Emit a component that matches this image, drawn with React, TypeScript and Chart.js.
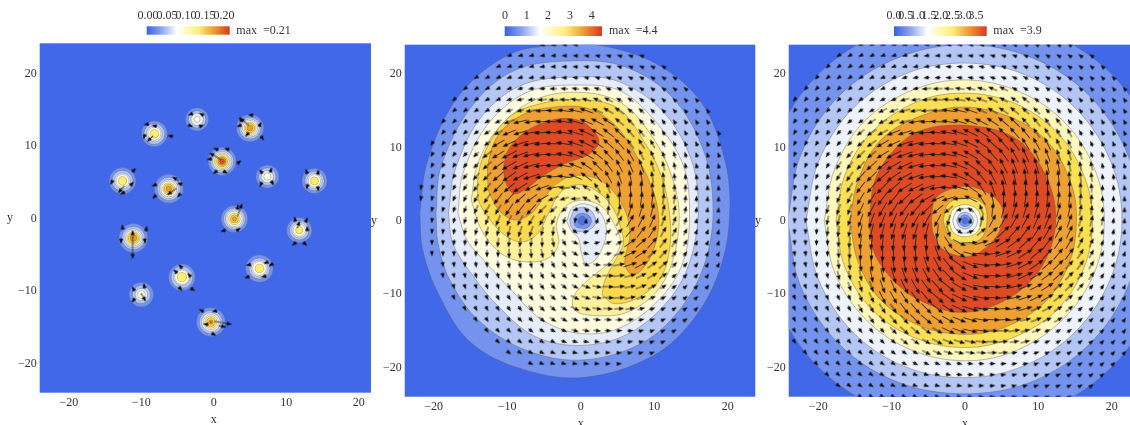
import React, { useEffect, useRef } from "react";
import { Chart, registerables } from "chart.js";

Chart.register(...registerables);

type Pt = [number, number];
type Contour = [number, Pt[]];

const FONT = "'Liberation Serif', serif";
const BG_BLUE = "#4268EA";
// contour fill per level, 0 = background
const levelColors = ["#4A70EA", "#7393EE", "#B3C6F5", "#E6ECFA", "#FFFCE0", "#FFF09A", "#FBD94F", "#EFA032", "#DE4A24"];
const levelColorsC = ["#4A70EA", "#7393EE", "#B3C6F5", "#EEF2FB", "#FFFCE0", "#FFF8BC", "#FBDF55", "#EFA032", "#DE4A24"];
const levelColorsA = ["#4268EA", "#7393EE", "#B3C6F5", "#E6ECFA", "#FFFCE0", "#FFEE6E", "#FBCF40", "#EE9A30", "#DE4A24"];
const arrowLengthByLevel = [5.5, 5.5, 6, 6.5, 8, 10, 12, 14.5, 17];

// ---- panel A: fifteen localised blobs ----
const blobX = [-2.3, -8.2, 5, 1.15, -12.6, -6.2, 7.4, 13.9, 2.85, 11.8, -11.1, 6.3, -4.4, -10, -0.4];
const blobY = [13.7, 11.7, 12.5, 7.9, 5.2, 4.1, 5.8, 5.2, -0.05, -1.6, -2.7, -6.9, -8.1, -10.5, -14.3];
// contour radii around every blob, one list per level 1..8
const blobR1 = [1.6, 1.8, 1.9, 1.95, 1.85, 2.0, 1.6, 1.75, 1.85, 1.75, 2.0, 1.9, 1.85, 1.7, 2.0];
const blobR2 = [1.2, 1.45, 1.5, 1.6, 1.45, 1.6, 1.2, 1.35, 1.5, 1.35, 1.6, 1.45, 1.5, 1.25, 1.6];
const blobR3 = [0.85, 1.1, 1.25, 1.35, 1.1, 1.3, 0.85, 1.05, 1.25, 1.05, 1.3, 1.15, 1.15, 0.85, 1.3];
const blobR4 = [0.4, 0.9, 1.05, 1.15, 0.9, 1.1, 0.5, 0.85, 1.05, 0.85, 1.1, 0.95, 1.0, 0.55, 1.05];
const blobR5 = [0, 0.6, 0.85, 1.0, 0.6, 0.85, 0, 0.55, 0.8, 0.5, 0.9, 0.6, 0.65, 0.08, 0.85];
const blobR6 = [0, 0, 0.65, 0.75, 0, 0.65, 0, 0, 0.55, 0, 0.7, 0, 0, 0, 0.6];
const blobR7 = [0, 0, 0.4, 0.55, 0, 0.4, 0, 0, 0.3, 0, 0.45, 0, 0, 0, 0.3];
const blobR8 = [0, 0, 0, 0.35, 0, 0, 0, 0, 0, 0, 0, 0, 0, 0, 0.12];

const arrowAX = [-3.2, -1.7, -3.2, -1.7, -9.3, -8.2, -9.6, -8.8, -6, 3.7, 5.1, 3.5, 6.4, 4.6, 6.7, 4.2, 0.3, 1.8, 0.2, 3.5, -0.6, 0.2, 1.6, -11, -14.1, -11.3, -12.8, -12.6, -8.2, -5.3, -4.7, -8.2, -5.8, -4.8, 6.5, 7.9, 6.5, 8.1, 12.8, 14.4, 12.9, 14.4, 3.3, 3.6, 1.3, 3.4, 11.2, 12.8, 11.7, 12.9, 11.1, 12.6, -12.6, -9.3, -11.2, -11.2, -12.8, -9.5, 4.8, 7.2, 7.9, 4.6, 6.9, -4.6, -5.3, -3.4, -4.6, -2.9, -11.1, -9.6, -11.1, -9.7, -1.7, 0.1, -1.1, 1.3, 1.2, 0];
const arrowAY = [14.4, 14.4, 12.8, 12.8, 13, 12.8, 11.3, 11, 11.4, 13.7, 14.3, 12.8, 13, 11.6, 11.1, 13.4, 9.6, 9.6, 8.6, 7.8, 8.2, 6.4, 6.4, 6.7, 5, 4.8, 4, 3.5, 4.6, 5.5, 4.8, 3, 3.7, 3.2, 6.5, 6.7, 4.7, 4.9, 6.5, 6.4, 4.4, 4.1, 1.6, 1.2, -1.7, -1.5, -0.1, -0.2, -0.8, -1.4, -3.5, -3.5, -1.2, -1.4, -2.1, -4.1, -3.1, -3.1, -6.4, -6.1, -6.4, -8.1, -8, -6.6, -7.3, -7.8, -9.7, -9.8, -9.7, -9.3, -11.3, -10.9, -12.7, -12.8, -14.6, -14.4, -14.9, -16];
const arrowAAngle = [200, 150, 340, 20, 190, 170, 250, 225, 170, 120, 170, 200, 60, 230, 300, 140, 160, 160, 150, 40, 190, 220, 330, 45, 240, 50, 230, 210, 200, 150, 170, 225, 215, 230, 130, 70, 250, 300, 110, 80, 260, 280, 80, 70, 200, 40, 100, 70, 70, 90, 220, 320, 100, 80, 90, 270, 270, 280, 190, 200, 210, 200, 190, 130, 140, 130, 310, 330, 120, 100, 230, 300, 150, 190, 170, 350, 350, 330];
const arrowALen = [6, 6, 6, 6, 6, 6, 6, 9, 6, 6, 6, 6, 6, 6, 6, 12, 6, 6, 14, 6, 6, 6, 6, 6, 6, 6, 10, 6, 6, 8, 6, 6, 12, 6, 6, 6, 6, 6, 6, 6, 6, 6, 6, 14, 6, 6, 6, 6, 8, 6, 6, 6, 6, 6, 8, 22, 6, 6, 6, 6, 6, 6, 6, 6, 6, 6, 6, 6, 6, 6, 6, 10, 6, 6, 6, 18, 8, 6];

// ---- shared arrow lattice (panels B and C) ----
const gridX = [-23.25, -21.75, -20.25, -18.75, -17.25, -15.75, -14.25, -12.75, -11.25, -9.75, -8.25, -6.75, -5.25, -3.75, -2.25, -0.75, 0.75, 2.25, 3.75, 5.25, 6.75, 8.25, 9.75, 11.25, 12.75, 14.25, 15.75, 17.25, 18.75, 20.25, 21.75];
const gridY = [24, 22.5, 21, 19.5, 18, 16.5, 15, 13.5, 12, 10.5, 9, 7.5, 6, 4.5, 3, 1.5, 0, -1.5, -3, -4.5, -6, -7.5, -9, -10.5, -12, -13.5, -15, -16.5, -18, -19.5, -21, -22.5, -24];
// first lattice column of each row
const angleRowStart = [6, 4, 3, 2, 1, 0, 0, 0, 0, 0, 0, 0, 0, 0, 0, 0, 0, 0, 0, 0, 0, 0, 0, 0, 0, 0, 0, 0, 1, 2, 3, 4, 6];
// arrow direction in degrees, counter-clockwise from +x, row by row from the top
const angleRows: number[][] = [
  [209, 206, 203, 200, 197, 194, 190, 187, 183, 180, 176, 173, 169, 166, 162, 159, 156, 153, 150, 147],
  [216, 212, 209, 206, 203, 199, 196, 193, 188, 185, 181, 177, 173, 169, 165, 162, 159, 156, 153, 149, 147, 145, 142, 140],
  [220, 217, 214, 211, 207, 204, 200, 196, 192, 188, 183, 179, 175, 171, 167, 163, 160, 156, 154, 150, 148, 145, 143, 140, 139, 136],
  [224, 221, 218, 215, 212, 208, 204, 200, 196, 191, 186, 182, 178, 173, 169, 164, 160, 156, 153, 150, 146, 144, 142, 140, 137, 136, 133, 132],
  [228, 225, 223, 220, 216, 212, 208, 204, 199, 195, 191, 185, 181, 176, 171, 167, 162, 157, 153, 149, 145, 143, 140, 138, 136, 134, 132, 131, 129, 128],
  [233, 230, 227, 225, 221, 218, 214, 209, 204, 200, 195, 189, 185, 179, 174, 169, 163, 158, 153, 149, 145, 141, 138, 136, 133, 132, 130, 129, 127, 125, 124],
  [235, 232, 230, 226, 223, 219, 215, 209, 205, 200, 195, 189, 183, 178, 172, 167, 161, 156, 150, 145, 141, 137, 134, 131, 129, 128, 127, 125, 124, 123, 122],
  [237, 234, 232, 228, 225, 220, 216, 210, 206, 201, 194, 189, 182, 177, 171, 164, 158, 152, 146, 140, 135, 132, 129, 126, 124, 123, 122, 121, 120, 120, 118],
  [240, 237, 234, 231, 227, 223, 218, 213, 208, 202, 197, 189, 183, 176, 170, 163, 155, 148, 142, 135, 131, 128, 124, 122, 119, 118, 117, 117, 117, 116, 115],
  [242, 240, 237, 234, 230, 225, 221, 215, 210, 205, 198, 192, 185, 178, 170, 162, 154, 146, 138, 131, 126, 122, 119, 116, 115, 113, 113, 112, 112, 112, 112],
  [245, 243, 240, 236, 232, 228, 223, 218, 212, 207, 200, 193, 186, 178, 169, 160, 150, 141, 132, 126, 119, 115, 113, 110, 108, 107, 108, 108, 108, 108, 107],
  [247, 246, 243, 239, 236, 231, 226, 222, 216, 210, 205, 196, 187, 179, 169, 158, 146, 135, 125, 117, 112, 109, 106, 104, 102, 102, 102, 103, 103, 103, 104],
  [250, 249, 245, 242, 238, 234, 229, 225, 221, 215, 208, 198, 191, 182, 171, 157, 143, 129, 118, 109, 102, 100, 99, 97, 95, 95, 96, 96, 98, 98, 99],
  [254, 252, 248, 245, 242, 238, 233, 230, 226, 221, 213, 206, 199, 190, 177, 165, 146, 123, 110, 101, 94, 91, 91, 90, 88, 89, 90, 92, 92, 94, 96],
  [258, 255, 253, 250, 246, 243, 239, 236, 233, 229, 222, 216, 210, 203, 197, 182, 154, 123, 101, 90, 84, 82, 83, 83, 82, 83, 85, 86, 88, 89, 91],
  [261, 259, 257, 254, 251, 249, 245, 242, 240, 237, 232, 228, 224, 220, 221, 197, 143, 109, 84, 76, 73, 72, 75, 76, 76, 77, 79, 81, 84, 85, 87],
  [265, 263, 261, 259, 256, 254, 251, 249, 248, 246, 242, 240, 240, 242, 255, 260, 80, 75, 62, 60, 60, 62, 66, 68, 69, 71, 74, 76, 79, 81, 83],
  [269, 267, 265, 264, 261, 259, 257, 256, 256, 255, 252, 252, 256, 264, 289, 323, 17, 41, 40, 44, 48, 52, 57, 60, 62, 65, 69, 71, 74, 77, 79],
  [272, 271, 269, 268, 266, 265, 263, 262, 263, 263, 262, 264, 270, 281, 303, 334, 2, 17, 23, 30, 36, 42, 49, 53, 56, 59, 63, 66, 70, 73, 75],
  [276, 276, 274, 272, 272, 270, 268, 268, 270, 271, 271, 274, 281, 290, 303, 325, -15, -3, 10, 19, 26, 33, 41, 46, 50, 54, 58, 62, 66, 69, 72],
  [279, 280, 278, 278, 276, 276, 275, 275, 277, 279, 280, 282, 289, 298, 309, 323, -23, -9, 2, 11, 18, 28, 35, 41, 45, 49, 54, 58, 62, 66, 70],
  [283, 284, 283, 283, 283, 282, 282, 282, 284, 286, 289, 292, 297, 305, 315, 326, -22, -11, -1, 7, 16, 25, 30, 36, 41, 46, 50, 55, 59, 63, 66],
  [287, 288, 288, 288, 288, 288, 287, 288, 290, 293, 296, 299, 306, 312, 321, 330, -20, -11, -2, 6, 13, 21, 27, 32, 38, 43, 48, 52, 56, 60, 63],
  [290, 292, 291, 292, 292, 293, 293, 295, 296, 299, 302, 306, 311, 318, 326, 334, -18, -10, -2, 5, 12, 18, 25, 30, 36, 41, 45, 50, 54, 57, 60],
  [294, 295, 296, 297, 297, 297, 298, 299, 302, 304, 307, 311, 315, 322, 328, 335, -17, -10, -4, 3, 9, 16, 22, 28, 33, 38, 43, 47, 51, 54, 58],
  [297, 298, 300, 300, 301, 302, 302, 304, 306, 309, 312, 315, 320, 325, 331, 338, -16, -9, -3, 2, 9, 14, 21, 26, 30, 36, 40, 45, 48, 52, 55],
  [301, 302, 303, 304, 305, 307, 307, 309, 311, 314, 317, 321, 325, 330, 335, 341, -13, -7, -2, 3, 9, 15, 20, 25, 30, 35, 39, 43, 46, 50, 52],
  [303, 304, 305, 307, 309, 310, 312, 313, 316, 318, 321, 325, 329, 333, 338, 343, -11, -6, -1, 5, 9, 15, 20, 24, 29, 34, 38, 41, 45, 47, 50],
  [308, 309, 311, 312, 314, 316, 318, 320, 323, 325, 329, 333, 337, 342, 347, -8, -4, 1, 5, 11, 15, 19, 24, 28, 32, 36, 40, 43, 45, 48],
  [312, 313, 315, 317, 320, 322, 324, 326, 330, 333, 336, 340, 344, 349, -7, -2, 2, 6, 11, 16, 20, 24, 28, 32, 35, 38, 41, 44],
  [316, 319, 320, 323, 325, 328, 330, 334, 336, 340, 343, 347, 351, -5, -1, 3, 8, 12, 16, 20, 24, 27, 31, 34, 37, 40],
  [320, 322, 325, 327, 329, 333, 336, 339, 342, 345, 349, 353, -3, 1, 5, 8, 13, 16, 20, 23, 27, 29, 32, 36],
  [327, 330, 333, 336, 339, 342, 346, 349, 353, 356, 0, 3, 7, 10, 14, 17, 20, 23, 26, 29],
];
// columns of the lattice where panel B has an arrow, per row
const spanBFrom = [12, 9, 8, 6, 5, 4, 4, 3, 3, 2, 2, 2, 2, 1, 1, 2, 2, 2, 2, 2, 3, 3, 4, 4, 5, 6, 7, 8, 9, 11, 1, 1, 1];
const spanBTo = [15, 21, 23, 24, 25, 26, 27, 27, 28, 28, 28, 28, 28, 28, 28, 28, 28, 28, 28, 28, 28, 27, 27, 26, 26, 25, 24, 23, 22, 19, 0, 0, 0];

// ---- contour outlines, data units ----
const contoursB: Contour[] = [
  [1, [[-21.9, 1], [-20.8, 8.3], [-16.7, 16.9], [-9.9, 22.6], [-2.6, 24], [3.8, 23.7], [11, 21], [16.5, 16], [19.5, 8.7], [20.3, 1.9], [19.2, -5.8], [15.6, -13.1], [9.7, -18.5], [0.1, -21.4], [-9, -19.9], [-15.3, -16.3], [-19.4, -9.9], [-21.5, -4]]],
  [2, [[-19.7, 1], [-19, 7.4], [-14.9, 15.5], [-9, 20.5], [-0.8, 21.8], [6, 21], [12.4, 16.9], [16.7, 9.6], [18, 1.9], [17, -5.4], [13.8, -11.7], [8.3, -16.7], [0.1, -19], [-7.6, -17.6], [-14, -13.5], [-17.8, -8.1], [-19.4, -3.1]]],
  [3, [[-18, 1], [-17.1, 6.9], [-13.5, 14.2], [-8, 18.5], [-0.8, 19.6], [5.1, 19], [11, 15.1], [14.9, 8.7], [16, 1.9], [14.9, -5.4], [12, -10.8], [6.5, -15.4], [0.1, -17], [-6.2, -15.8], [-11.2, -11.7], [-14.9, -7.2], [-17.4, -3.1]]],
  [4, [[-16.7, 1], [-16, 6.5], [-12.6, 13.2], [-7.1, 17.6], [0.1, 18.5], [5.6, 17.6], [10.6, 13], [14, 7.4], [14.8, 1], [14, -5.4], [11, -10.4], [5.6, -14.5], [0.1, -15.4], [-5.3, -13.5], [-9.4, -9.5], [-13, -5.6], [-15.5, -2.6]]],
  [5, [[-14.9, 2.8], [-13.5, -1.3], [-10.8, -4.5], [-7.6, -5.6], [-4.4, -5.1], [-3, -3.1], [-3.3, -0.4], [-2.1, 1.9], [0.1, 2.8], [2.9, 1.9], [4.7, -0.8], [5.4, -3.1], [4.2, -5.4], [1, -8.1], [-1, -10.4], [-0.8, -12.2], [1.5, -12.9], [6, -12.6], [10.1, -9.9], [12.4, -5.8], [13.4, 0.5], [12.4, 6], [9.7, 11.5], [5.6, 16], [0.1, 17.5], [-6.2, 16.5], [-11.2, 12.6], [-14, 7.8]]],
  [6, [[2.9, -10.1], [3.3, -8.1], [4.7, -5.4], [5.8, -3.1], [5.4, -0.8], [4.5, 1.5], [2.9, 3.5], [0.1, 4.9], [-2.6, 4], [-4.4, 1], [-5.8, -1.7], [-8, -2.9], [-10.3, -2], [-12.6, 0.5], [-14, 3.3], [-13.3, 8.7], [-9.9, 14], [-5.3, 16], [0.1, 16.5], [5.1, 15.3], [8.8, 10.5], [11, 6], [12.1, 0.8], [12.1, -3.8], [10.8, -7.9], [7.6, -10.6], [4.5, -11.3]]],
  [7, [[-12.6, 4.2], [-11.2, 1.5], [-9, 0.1], [-6.7, 1], [-4.9, 3.3], [-2.6, 5.5], [0.1, 6.2], [3.3, 5.1], [5.8, 1.9], [6.7, -1.7], [6, -5.8], [7, -7.4], [8.3, -6.7], [9.7, -4.5], [10.6, -0.8], [10.1, 3.3], [7.9, 8.3], [4.7, 13], [1, 15.3], [-3.5, 15.5], [-8, 14.4], [-11.2, 11.7], [-12.6, 7.8]]],
  [8, [[-10.5, 7.4], [-9.9, 9.6], [-7.6, 12.1], [-4, 13.7], [-1.2, 13.9], [1, 13], [2.5, 10.8], [1, 9], [-2.1, 7.8], [-5.3, 6], [-7.6, 4.2], [-9.2, 3.7], [-10.3, 5.5]]],
  [3, [[-1.9, -0.1], [-1.2, 1.7], [0.6, 2.3], [2.6, 1.2], [3.5, -1.3], [2.9, -3.8], [1.7, -5.6], [0.6, -5.8], [0, -4], [-0.3, -2.4], [-1.2, -1.5]]],
  [2, [[-1.5, 0.1], [-0.8, 1.5], [0.6, 1.8], [1.7, 1], [2, -0.4], [1, -1.3], [-0.3, -1.5], [-1.2, -1]]],
  [1, [[-0.9, 0], [-0.5, 0.8], [0.4, 1], [1.3, 0.5], [1.4, -0.3], [0.8, -1], [-0.1, -1], [-0.8, -0.7]]],
  [0, [[-0.4, 0], [-0.1, 0.5], [0.3, 0.6], [0.65, 0.3], [0.7, -0.2], [0.4, -0.55], [0, -0.55], [-0.3, -0.3]]],
];

const contoursC: Contour[] = [
  [1, [[-28, 0], [-26, 10.6], [-20, 20], [-10.6, 26], [0, 28.2], [10.6, 26], [20, 20], [26, 10.6], [28, 0], [26, -10.6], [20, -20], [10.6, -26], [0, -28], [-10.6, -26], [-20, -20], [-26, -10.6]]],
  [2, [[-24.2, 0], [-22.4, 9], [-17.2, 17], [-9.2, 22.2], [0, 24], [9.2, 22.2], [17, 17], [22.2, 9], [24, 0], [22.2, -9], [16.9, -16.9], [9, -22], [0, -23.6], [-9.2, -22], [-17, -17], [-22.4, -9]]],
  [3, [[-21.7, 0], [-20, 8], [-15.4, 15.2], [-8.2, 20], [0, 21.5], [8.2, 19.9], [15.2, 15.2], [19.9, 8], [21.4, 0], [19.8, -8], [15.1, -15.1], [8, -19.8], [0, -21.4], [-8.2, -19.9], [-15.3, -15.2], [-20, -8]]],
  [5, [[-19.2, 0], [-17.8, 7], [-13.8, 13.5], [-7.2, 17.8], [0, 19.2], [7.4, 17.6], [13.6, 13.4], [17.7, 7], [19, 0], [17.6, -7.2], [13.4, -13.4], [7, -17.7], [0, -19.1], [-7.4, -17.6], [-13.6, -13.4], [-17.8, -7]]],
  [6, [[-17.6, 0], [-16.4, 6.2], [-12.8, 12], [-6.6, 16.2], [0, 17.4], [6.8, 16], [12.6, 12], [16.2, 6.2], [17.4, 0], [16.2, -6.5], [12.4, -12.3], [6.4, -16], [0, -17.3], [-6.8, -16], [-12.6, -12.2], [-16.4, -6.3]]],
  [7, [[-15.7, 0], [-14.6, 5.5], [-11.5, 11], [-6, 14.3], [0, 15.5], [6.5, 14], [11.5, 10.5], [14.5, 5], [15.2, 0], [14.3, -5.5], [11, -11], [5.5, -14.5], [0, -15.5], [-6, -14.4], [-11.5, -10.8], [-14.6, -5.6]]],
  [8, [[-13.1, 0], [-12.3, 5.5], [-9.8, 9.5], [-6.1, 12.3], [0.2, 13], [6.6, 11.4], [10.7, 6.8], [12.4, 0.5], [10.7, -5.9], [6.1, -10.5], [-0.2, -12.5], [-6.1, -10.9], [-10.2, -7.7], [-12.5, -4.1]]],
  [7, [[-4.6, 0.2], [-3.9, 3.2], [-0.2, 4.7], [2.5, 4.1], [4.5, 2.7], [5.2, 0.9], [4.5, -1.8], [2, -4.3], [-0.2, -4.9], [-3, -3.9], [-4.3, -1.8]]],
  [6, [[-3, 0], [-2.3, 2.3], [0.2, 3.2], [2.5, 2.3], [3, 0], [2.3, -2.3], [0.2, -3.2], [-2, -2.5]]],
  [4, [[-2.2, 0], [-1.6, 1.6], [0, 2.2], [1.6, 1.6], [2.2, 0], [1.6, -1.6], [0, -2.2], [-1.6, -1.6]]],
  [3, [[-1.7, 0], [-1.2, 1.2], [0, 1.7], [1.2, 1.2], [1.7, 0], [1.2, -1.2], [0, -1.7], [-1.2, -1.2]]],
  [2, [[-1.15, 0], [-0.8, 0.8], [0, 1.15], [0.8, 0.8], [1.15, 0], [0.8, -0.8], [0, -1.15], [-0.8, -0.8]]],
  [1, [[-0.8, 0], [-0.55, 0.55], [0, 0.8], [0.55, 0.55], [0.8, 0], [0.55, -0.55], [0, -0.8], [-0.55, -0.55]]],
  [0, [[-0.45, 0], [-0.3, 0.3], [0, 0.45], [0.3, 0.3], [0.45, 0], [0.3, -0.3], [0, -0.45], [-0.3, -0.3]]],
];

const cbTicksA = ["0.00", "0.05", "0.10", "0.15", "0.20"];
const cbTicksB = ["0", "1", "2", "3", "4"];
const cbTicksC = ["0.0", "0.5", "1.0", "1.5", "2.0", "2.5", "3.0", "3.5"];

// ---- helpers ----
const sprites = new Map<number, HTMLCanvasElement>();
function arrowSprite(len: number): HTMLCanvasElement {
  const hit = sprites.get(len);
  if (hit) return hit;
  const size = Math.ceil(len) + 8;
  const c = document.createElement("canvas");
  c.width = size;
  c.height = size;
  const g = c.getContext("2d")!;
  const m = size / 2;
  const tail = m - len / 2;
  const tip = m + len / 2;
  const headLen = 5.2;
  g.strokeStyle = "#1a1a1a";
  g.fillStyle = "#0a0a0a";
  g.lineWidth = 0.8;
  g.beginPath();
  g.moveTo(tail, m);
  g.lineTo(tip - headLen + 1, m);
  g.stroke();
  g.beginPath();
  g.moveTo(tip, m);
  g.lineTo(tip - headLen, m - 2.1);
  g.lineTo(tip - headLen, m + 2.1);
  g.closePath();
  g.fill();
  sprites.set(len, c);
  return c;
}

function inside(x: number, y: number, poly: Pt[]) {
  let hit = false;
  for (let i = 0, j = poly.length - 1; i < poly.length; j = i++) {
    const [xi, yi] = poly[i];
    const [xj, yj] = poly[j];
    if (yi > y !== yj > y && x < ((xj - xi) * (y - yi)) / (yj - yi) + xi) hit = !hit;
  }
  return hit;
}

function levelAt(x: number, y: number, contours: Contour[]) {
  let level = 0;
  for (const [lv, poly] of contours) if (inside(x, y, poly)) level = lv;
  return level;
}

function contourDatasets(contours: Contour[], colors: string[]) {
  return contours.map(([lv, poly]) => ({
    type: "scatter",
    showLine: true,
    fill: "shape",
    tension: 0.35,
    capBezierPoints: false,
    pointRadius: 0,
    backgroundColor: colors[lv],
    borderColor: "rgba(95,95,95,0.6)",
    borderWidth: 0.7,
    data: [...poly, poly[0]].map(([x, y]) => ({ x, y })),
  }));
}

function latticeArrows(contours: Contour[], from?: number[], to?: number[]) {
  const data: { x: number; y: number }[] = [];
  const rotation: number[] = [];
  const pointStyle: HTMLCanvasElement[] = [];
  gridY.forEach((y, r) => {
    const start = angleRowStart[r];
    angleRows[r].forEach((ang, i) => {
      const k = start + i;
      if (from && to && (k < from[r] || k > to[r])) return;
      const x = gridX[k];
      data.push({ x, y });
      rotation.push(-ang);
      pointStyle.push(arrowSprite(arrowLengthByLevel[levelAt(x, y, contours)]));
    });
  });
  return { type: "scatter", showLine: false, data, rotation, pointStyle, pointRadius: 3, borderWidth: 0 };
}

function blobDatasets() {
  const lists = [blobR1, blobR2, blobR3, blobR4, blobR5, blobR6, blobR7, blobR8];
  const pxPerUnit = 7.24;
  return lists.map((radii, li) => ({
    type: "scatter",
    showLine: false,
    data: blobX.map((x, i) => ({ x, y: blobY[i] })),
    pointRadius: radii.map((r) => r * pxPerUnit),
    backgroundColor: levelColorsA[li + 1],
    borderColor: "rgba(95,95,95,0.55)",
    borderWidth: 0.6,
  }));
}

function blobArrows() {
  return {
    type: "scatter",
    showLine: false,
    data: arrowAX.map((x, i) => ({ x, y: arrowAY[i] })),
    rotation: arrowAAngle.map((a) => -a),
    pointStyle: arrowALen.map((l) => arrowSprite(l)),
    pointRadius: 3,
    borderWidth: 0,
  };
}

const panels = [
  {
    left: 0, width: 373, plot: [39.7, 43.3, 371, 392.7], x: [-24.03, 21.7], y: [-24.05, 24.2], tickPad: 3,
    bar: [146.7, 26.3, 229.7, 34.7], ticks: cbTicksA, tickX: [148, 167, 186, 205, 224], maxText: "max  =0.21", maxX: 236.3,
    yTitle: 10, xTitle: [213.7, 420], yMid: 218.3,
    sets: () => [...blobDatasets(), blobArrows()],
  },
  {
    left: 368, width: 388, plot: [404.7, 44.7, 755.3, 396.7], x: [-23.95, 23.75], y: [-24, 24], tickPad: 3,
    bar: [504.7, 26.3, 602, 36], ticks: cbTicksB, tickX: [505, 526.7, 548, 570, 591.7], maxText: "max  =4.4", maxX: 609,
    yTitle: 374, xTitle: [580.7, 424], yMid: 220.7,
    sets: () => [...contourDatasets(contoursB, levelColors), latticeArrows(contoursB, spanBFrom, spanBTo)],
  },
  {
    left: 752, width: 378, plot: [788.7, 44.7, 1130, 396.7], x: [-24.05, 22.5], y: [-24, 24], tickPad: 3,
    bar: [894, 26.3, 986.7, 36], ticks: cbTicksC, tickX: [894, 905.7, 917.4, 929.1, 940.8, 952.5, 964.2, 975.9], maxText: "max  =3.9", maxX: 993.3,
    yTitle: 758, xTitle: [965, 424], yMid: 220.7,
    sets: () => [...contourDatasets(contoursC, levelColorsC), latticeArrows(contoursC)],
  },
];

function signed(v: number | string) {
  const n = Number(v);
  return n < 0 ? "\u2212" + Math.abs(n) : String(n);
}

export default function App() {
  const refs = useRef<(HTMLCanvasElement | null)[]>([]);

  useEffect(() => {
    const charts = panels.map((p, idx) => {
      const [pl, pt, pr, pb] = p.plot;
      const H = 425;
      const decor = {
        id: "decor" + idx,
        beforeDatasetsDraw(chart: any) {
          const { ctx, chartArea: a } = chart;
          ctx.save();
          ctx.fillStyle = BG_BLUE;
          ctx.fillRect(a.left, a.top, a.right - a.left, a.bottom - a.top);
          ctx.restore();
        },
        afterDraw(chart: any) {
          const { ctx } = chart;
          ctx.save();
          const [bx0, by0, bx1, by1] = p.bar;
          const g = ctx.createLinearGradient(bx0 - p.left, 0, bx1 - p.left, 0);
          g.addColorStop(0, "#3A5FE2");
          g.addColorStop(0.18, "#8CA6F0");
          g.addColorStop(0.36, "#FFFFFF");
          g.addColorStop(0.62, "#FFF07A");
          g.addColorStop(0.8, "#EFA032");
          g.addColorStop(1, "#D8381E");
          ctx.fillStyle = g;
          ctx.fillRect(bx0 - p.left, by0, bx1 - bx0, by1 - by0);
          ctx.fillStyle = "#333";
          ctx.font = "12px " + FONT;
          ctx.textBaseline = "middle";
          ctx.textAlign = "center";
          p.ticks.forEach((t, i) => ctx.fillText(t, p.tickX[i] - p.left, 16));
          ctx.textAlign = "left";
          ctx.fillText(p.maxText, p.maxX - p.left, 31);
          ctx.textAlign = "center";
          ctx.fillText("y", p.yTitle - p.left, p.yMid);
          ctx.fillText("x", p.xTitle[0] - p.left, p.xTitle[1]);
          ctx.restore();
        },
      };
      const tickCommon = {
        stepSize: 10,
        includeBounds: false,
        autoSkip: false,
        maxRotation: 0,
        minRotation: 0,
        padding: p.tickPad,
        color: "#333",
        font: { family: FONT, size: 12 },
        callback: signed,
      };
      const datasets = p.sets().reverse();
      const gridOff = { display: false, drawTicks: false };
      return new Chart(refs.current[idx] as HTMLCanvasElement, {
        type: "scatter",
        data: { datasets: datasets as any },
        plugins: [decor],
        options: {
          animation: false,
          responsive: false,
          devicePixelRatio: 1,
          events: [],
          layout: {
            autoPadding: false,
            padding: { left: 0, top: pt, right: p.left + p.width - pr, bottom: 0 },
          },
          plugins: { legend: { display: false }, tooltip: { enabled: false }, title: { display: false } },
          scales: {
            x: {
              type: "linear",
              min: p.x[0],
              max: p.x[1],
              grid: gridOff,
              border: { display: false },
              ticks: tickCommon,
              afterFit: (s: any) => {
                s.height = H - pb;
              },
            },
            y: {
              type: "linear",
              min: p.y[0],
              max: p.y[1],
              grid: gridOff,
              border: { display: false },
              ticks: tickCommon,
              afterFit: (s: any) => {
                s.width = pl - p.left;
              },
            },
          },
        } as any,
      });
    });
    return () => charts.forEach((c) => c.destroy());
  }, []);

  return (
    <div style={{ position: "fixed", left: 0, top: 0, width: 1130, height: 425, overflow: "hidden", background: "#fff" }}>
      {panels.map((p, i) => (
        <canvas
          key={i}
          ref={(el) => {
            refs.current[i] = el;
          }}
          width={p.width}
          height={425}
          style={{ position: "absolute", left: p.left, top: 0, width: p.width, height: 425, filter: "blur(0.3px)" }}
        />
      ))}
    </div>
  );
}
